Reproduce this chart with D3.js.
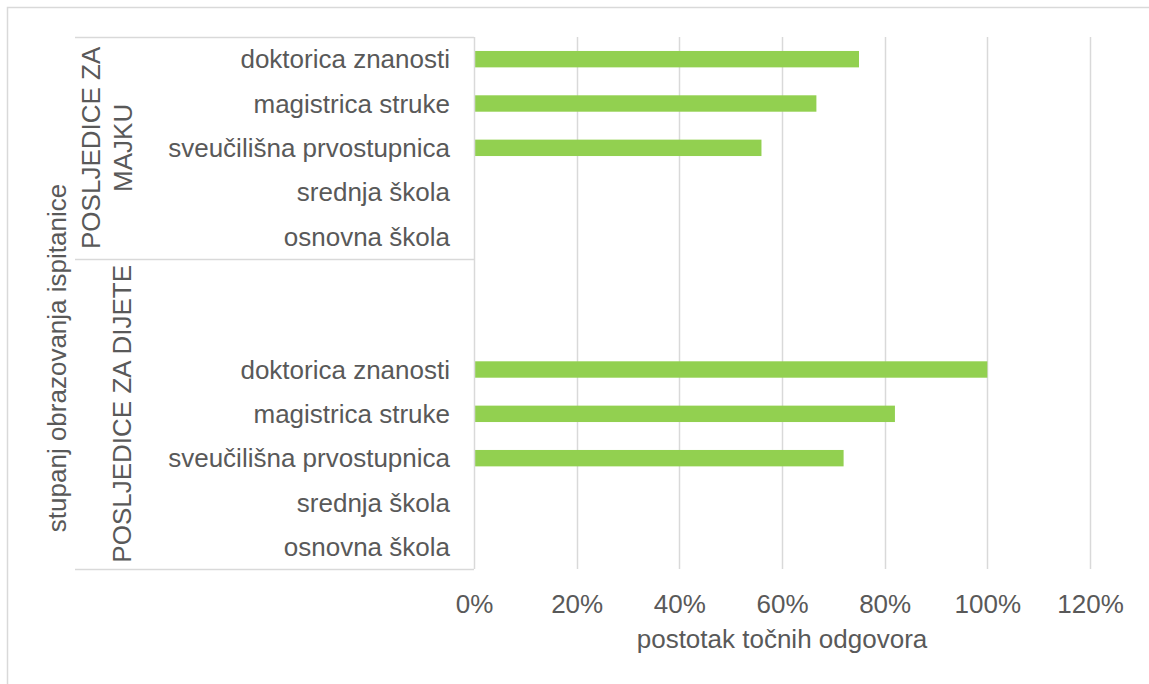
<!DOCTYPE html>
<html>
<head>
<meta charset="utf-8">
<script src="https://cdn.jsdelivr.net/npm/d3@7"></script>
<style>
  body { margin: 0; background: #fff; }
  svg text { font-family: "Liberation Sans", Arial, sans-serif; fill: #595959; }
</style>
</head>
<body>
<svg class="mysvg"></svg>
<script>
// values
const levels = ["doktorica znanosti", "magistrica struke", "sveučilišna prvostupnica", "srednja škola", "osnovna škola"];
const groupMajka = "POSLJEDICE ZA MAJKU";
const groupDijete = "POSLJEDICE ZA DIJETE";
const majkaValues = [0.75, 0.667, 0.56, 0, 0];
const dijeteValues = [1.0, 0.82, 0.72, 0, 0];
const dijeteBlankRows = 2;
const xTicks = [0, 0.2, 0.4, 0.6, 0.8, 1.0, 1.2];
const xTitle = "postotak točnih odgovora";
const yTitle = "stupanj obrazovanja ispitanice";

// build rows top to bottom
const rows = [];
levels.forEach((l, i) => rows.push({ key: "m" + i, label: l, group: groupMajka, value: majkaValues[i] }));
for (let i = 0; i < dijeteBlankRows; i++) rows.push({ key: "b" + i, label: "", group: groupDijete, value: 0 });
levels.forEach((l, i) => rows.push({ key: "d" + i, label: l, group: groupDijete, value: dijeteValues[i] }));

const width = 1149, height = 684;
const plot = { left: 474, right: 1090, top: 37, bottom: 569 };

const svg = d3.select(".mysvg").attr("width", width).attr("height", height);

// outer chart border
svg.append("rect")
  .attr("x", 7.5).attr("y", 7.5)
  .attr("width", width + 20).attr("height", height + 20)
  .attr("fill", "none").attr("stroke", "#d9d9d9").attr("stroke-width", 1.5);

const xScale = d3.scaleLinear().domain([0, 1.2]).range([plot.left, plot.right]);
const yScale = d3.scaleBand().domain(rows.map((d) => d.key)).range([plot.top, plot.bottom]);
const barH = yScale.bandwidth() * 0.37;

// gridlines
svg.append("g")
  .selectAll("line")
  .data(xTicks.slice(1))
  .join("line")
  .attr("x1", (d) => Math.round(xScale(d)) + 0.5)
  .attr("x2", (d) => Math.round(xScale(d)) + 0.5)
  .attr("y1", plot.top)
  .attr("y2", plot.bottom)
  .attr("stroke", "#d9d9d9")
  .attr("stroke-width", 1.5);

// bars
svg.append("g")
  .selectAll("rect")
  .data(rows.filter((d) => d.value > 0))
  .join("rect")
  .attr("x", xScale(0) + 1)
  .attr("y", (d) => yScale(d.key) + (yScale.bandwidth() - barH) / 2)
  .attr("width", (d) => xScale(d.value) - xScale(0) - 1)
  .attr("height", barH)
  .attr("fill", "#92d050");

// x axis tick labels
const xAxis = svg.append("g")
  .attr("transform", `translate(0, ${plot.bottom + 44})`)
  .call(d3.axisBottom(xScale).tickValues(xTicks).tickFormat(d3.format(".0%")).tickSize(0).tickPadding(0));
xAxis.select(".domain").remove();
xAxis.selectAll("text")
  .attr("dy", 0)
  .style("font-size", "26px")
  .style("font-family", "'Liberation Sans', Arial, sans-serif")
  .attr("fill", "#595959");

svg.append("text")
  .attr("x", (plot.left + plot.right) / 2)
  .attr("y", 648)
  .attr("text-anchor", "middle")
  .style("font-size", "26px")
  .text(xTitle);

// category axis: line and group separators
const gAxis = svg.append("g").attr("stroke", "#d9d9d9").attr("stroke-width", 1.5);
gAxis.append("line")
  .attr("x1", plot.left + 0.5).attr("x2", plot.left + 0.5)
  .attr("y1", plot.top).attr("y2", plot.bottom);

const groupNames = [groupMajka, groupDijete];
const groupSpans = groupNames.map((g) => {
  const r = rows.filter((d) => d.group === g);
  return { name: g, y0: yScale(r[0].key), y1: yScale(r[r.length - 1].key) + yScale.bandwidth() };
});
const sepY = [groupSpans[0].y0, groupSpans[0].y1, groupSpans[1].y1];
gAxis.selectAll(".sep")
  .data(sepY)
  .join("line")
  .attr("class", "sep")
  .attr("x1", 75).attr("x2", plot.left)
  .attr("y1", (d) => Math.round(d) + 0.5)
  .attr("y2", (d) => Math.round(d) + 0.5);

// level labels
svg.append("g")
  .selectAll("text")
  .data(rows.filter((d) => d.label))
  .join("text")
  .attr("x", 450)
  .attr("y", (d) => yScale(d.key) + yScale.bandwidth() / 2)
  .attr("dy", "0.35em")
  .attr("text-anchor", "end")
  .style("font-size", "26px")
  .text((d) => d.label);

// group labels (rotated)
const groupLines = [["POSLJEDICE ZA", "MAJKU"], ["POSLJEDICE ZA DIJETE"]];
groupSpans.forEach((g, gi) => {
  const lines = groupLines[gi];
  const cy = (g.y0 + g.y1) / 2;
  lines.forEach((line, li) => {
    const bx = lines.length === 2 ? 100 + li * 32 : 131;
    svg.append("text")
      .attr("transform", `translate(${bx}, ${cy}) rotate(-90)`)
      .attr("text-anchor", "middle")
      .style("font-size", "26px")
      .text(line);
  });
});

// category axis title
svg.append("text")
  .attr("transform", `translate(66, 358) rotate(-90)`)
  .attr("text-anchor", "middle")
  .style("font-size", "26px")
  .text(yTitle);
</script>
</body>
</html>
